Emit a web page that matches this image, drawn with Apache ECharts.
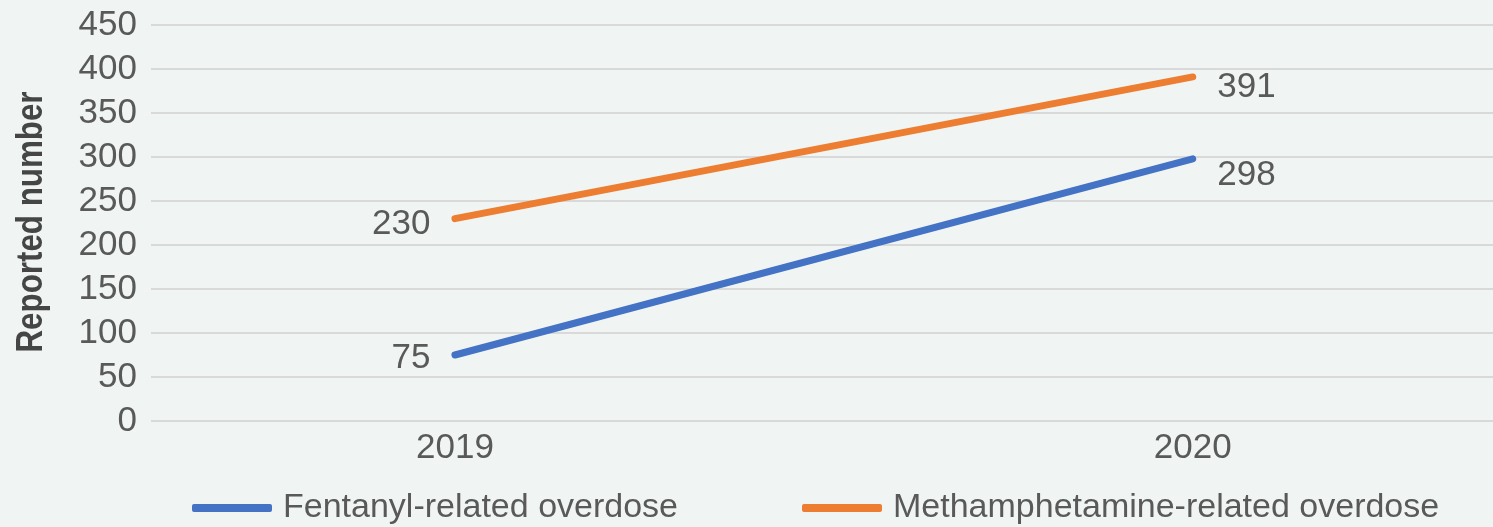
<!DOCTYPE html>
<html>
<head>
<meta charset="utf-8">
<script src="https://cdn.jsdelivr.net/npm/echarts@6/dist/echarts.min.js"></script>
<style>
  html, body { margin: 0; padding: 0; background: #f0f5f4; }
  #chart { width: 1493px; height: 527px; }
</style>
</head>
<body>
<div id="chart"></div>
<script>
const years = [2019, 2020]
const fentanyl = [75, 298]
const meth = [230, 391]
const yTicks = { min: 0, max: 450, step: 50 }

const chart = echarts.init(document.getElementById('chart'))

// label placement per point: 2019 on the left, 2020 on the right
const labelPos = [
  { position: 'left', distance: 24 },
  { position: 'right', distance: 24 }
]

const buildData = (values, offsets) => values.map((v, i) => ({
  value: [years[i], v],
  label: { ...labelPos[i], offset: [0, offsets[i]] }
}))

const labelFont = {
  show: true,
  fontFamily: 'Liberation Sans',
  fontSize: 35,
  color: '#595959'
}

chart.setOption({
  backgroundColor: '#f0f5f4',
  animation: false,
  grid: { left: 151, right: 0, top: 25, bottom: 106, outerBoundsMode: 'none' },
  legend: {
    left: 192,
    bottom: 2,
    padding: 0,
    icon: 'roundRect',
    itemWidth: 80,
    itemHeight: 8,
    itemGap: 124,
    textStyle: { fontFamily: 'Liberation Sans', fontSize: 34, color: '#595959', padding: [0, 0, 0, 6] },
    data: ['Fentanyl-related overdose', 'Methamphetamine-related overdose']
  },
  graphic: [{
    type: 'text',
    x: 32,
    y: 222,
    rotation: Math.PI / 2,
    scaleX: 0.87,
    style: {
      text: 'Reported number',
      fontFamily: 'Liberation Sans',
      fontWeight: 'bold',
      fontSize: 36,
      fill: '#454545',
      textAlign: 'center',
      textVerticalAlign: 'middle'
    }
  }],
  xAxis: {
    type: 'value',
    min: 2018.588,
    max: 2020.407,
    axisLine: { show: false },
    axisTick: { show: false },
    splitLine: { show: false },
    axisLabel: {
      customValues: years,
      formatter: v => String(v),
      margin: 10,
      fontFamily: 'Liberation Sans',
      fontSize: 35,
      color: '#595959'
    }
  },
  yAxis: {
    type: 'value',
    min: yTicks.min,
    max: yTicks.max,
    interval: yTicks.step,
    axisLine: { show: false },
    axisTick: { show: false },
    splitLine: { lineStyle: { color: '#d9d9d9', width: 2 } },
    axisLabel: {
      margin: 14,
      fontFamily: 'Liberation Sans',
      fontSize: 35,
      color: '#595959'
    }
  },
  series: [
    {
      name: 'Fentanyl-related overdose',
      type: 'line',
      data: buildData(fentanyl, [3, 17]),
      symbol: 'circle',
      symbolSize: 1,
      color: '#4472c4',
      lineStyle: { width: 7, cap: 'round' },
      label: labelFont
    },
    {
      name: 'Methamphetamine-related overdose',
      type: 'line',
      data: buildData(meth, [6, 10]),
      symbol: 'circle',
      symbolSize: 1,
      color: '#ed7d31',
      lineStyle: { width: 7, cap: 'round' },
      label: labelFont
    }
  ]
})
</script>
</body>
</html>
